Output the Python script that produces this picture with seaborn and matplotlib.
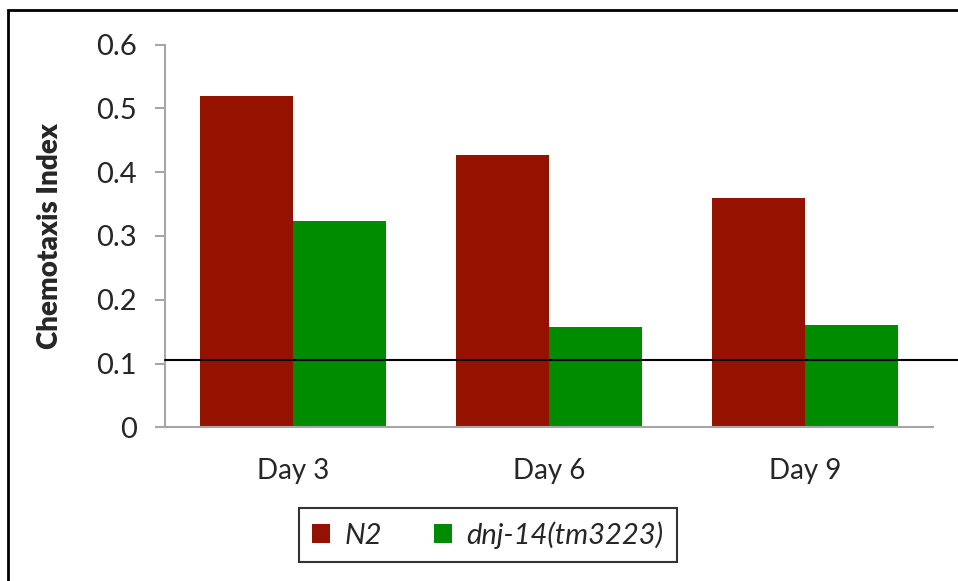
import matplotlib
matplotlib.use("Agg")
import matplotlib.pyplot as plt
import matplotlib.patches as mpatches
import pandas as pd
import seaborn as sns

days = ["Day 3", "Day 6", "Day 9"]
strains = ["N2", "dnj-14(tm3223)"]
n2_values = [0.520, 0.427, 0.359]
dnj14_values = [0.323, 0.157, 0.160]
baseline = 0.105
colors = ["#961200", "#008C00"]

df = pd.DataFrame({
    "day": days * 2,
    "strain": [strains[0]] * 3 + [strains[1]] * 3,
    "index": n2_values + dnj14_values,
})

sns.set_style("white")
plt.rcParams["font.family"] = ["Lato", "DejaVu Sans"]

fig = plt.figure(figsize=(9.58, 5.81), dpi=100)
ax = fig.add_axes([165 / 958, 1 - 427.3 / 581, 768 / 958, (427.3 - 44.7) / 581])

sns.barplot(data=df, x="day", y="index", hue="strain", palette=colors,
            width=0.73, gap=0, saturation=1, ax=ax, legend=False,
            edgecolor="none", linewidth=0)

ax.set_ylim(0, 0.6)
ax.set_yticks([0, 0.1, 0.2, 0.3, 0.4, 0.5, 0.6])
ax.set_yticklabels(["0", "0.1", "0.2", "0.3", "0.4", "0.5", "0.6"])
ax.set_xlabel("")
ax.set_ylabel("Chemotaxis Index", fontsize=20, fontweight="heavy", labelpad=24)

for side in ["top", "right"]:
    ax.spines[side].set_visible(False)
for side in ["left", "bottom"]:
    ax.spines[side].set_color("#a6a6a6")
    ax.spines[side].set_linewidth(1.5)

ax.tick_params(axis="y", direction="out", length=7, width=1.5, color="#a6a6a6",
               labelsize=21, pad=13, left=True)
ax.tick_params(axis="x", length=0, labelsize=20, pad=22)

ax.axhline(baseline, xmin=0, xmax=(958 - 165) / 768, color="black",
           linewidth=1.5, clip_on=False, zorder=5)

handles = [mpatches.Patch(facecolor=c, edgecolor="none") for c in colors]
leg = fig.legend(handles, strains, loc="center", ncol=2,
                 bbox_to_anchor=(488 / 958, 1 - 535 / 581),
                 prop={"size": 21, "style": "italic"},
                 frameon=True, fancybox=False, handlelength=0.6, handleheight=0.6,
                 handletextpad=0.5, columnspacing=1.8, borderpad=0.45,
                 borderaxespad=0)
leg.get_frame().set_edgecolor("black")
leg.get_frame().set_linewidth(1.5)

# outer chart frame
fig.patches.append(mpatches.Rectangle((8 / 958, -0.1), 1.2, 1 - 10 / 581 + 0.1,
                                      transform=fig.transFigure, fill=False,
                                      edgecolor="black", linewidth=2))

fig.savefig("out.png", dpi=100)
